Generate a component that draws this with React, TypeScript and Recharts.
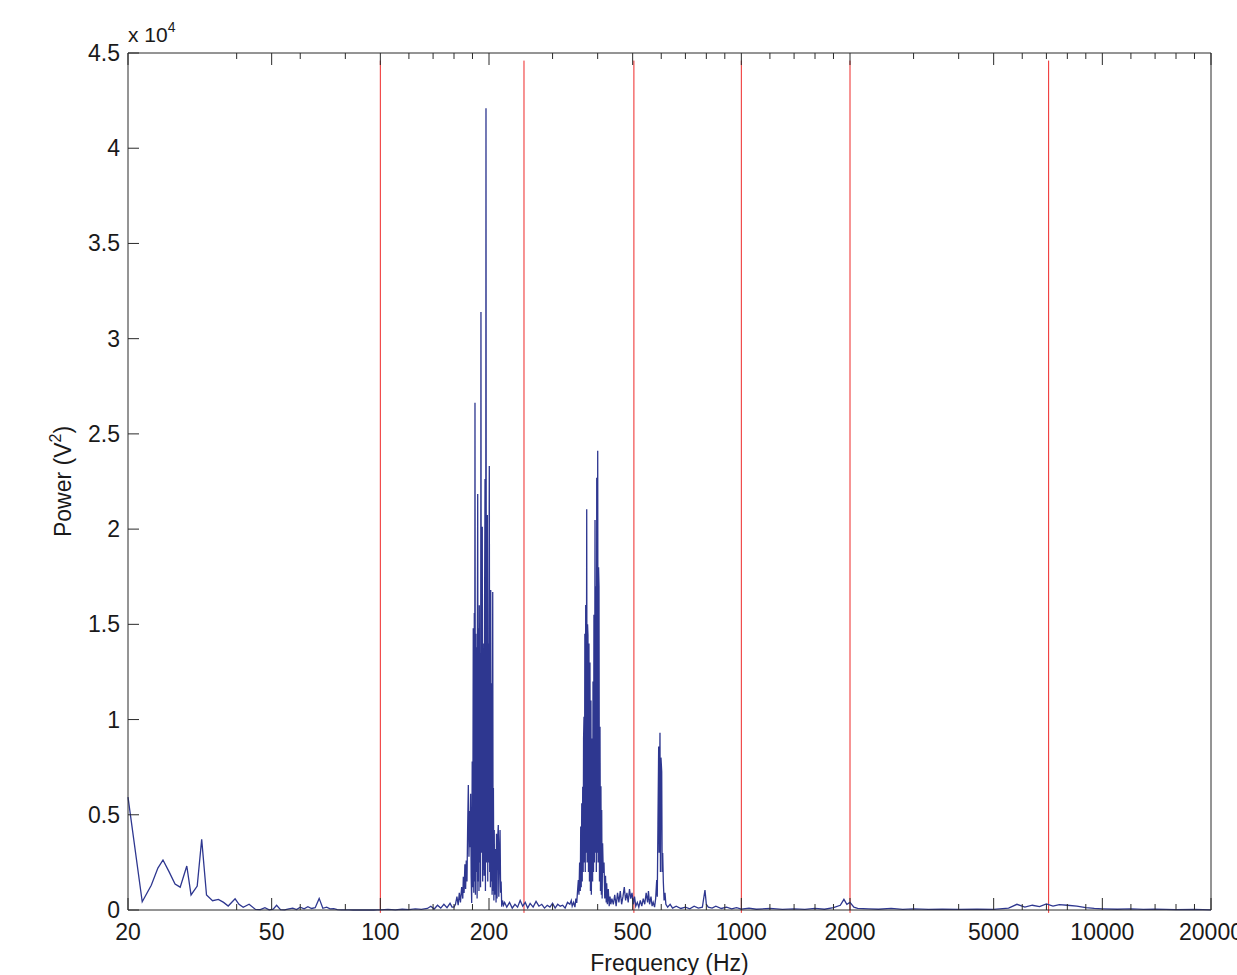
import React from 'react';
import { LineChart, Line, XAxis, YAxis, ReferenceLine } from 'recharts';

const FONT = '"Liberation Sans", Arial, Helvetica, sans-serif';
const LINE_COLOR = '#2E3790';
const RED = '#EE2828';
const AXIS = '#2a2a2a';

// ---- spectrum data (frequency Hz, power V^2) ----
const lowFreq = [20, 21.9, 23.2, 24.2, 25.0, 26.0, 27.0, 27.9, 29.1, 29.9, 31.1, 32.0, 33.0, 34.3, 35.6, 36.8, 37.9, 39.6, 40.6, 41.7, 43.3, 45.1, 46.5, 47.9, 49.2, 50.5, 51.6, 52.9, 54.3, 55.8, 57.2, 58.6, 60.0, 61.5, 63.0, 64.5, 66.0, 67.7, 69.3, 71.0, 72.6, 74.3, 76.0, 78, 80, 82, 84, 86, 88, 90, 92, 94, 96, 98];
const lowPow = [5930, 435, 1300, 2200, 2625, 2000, 1365, 1200, 2310, 790, 1260, 3710, 790, 490, 560, 400, 210, 590, 300, 140, 300, 30, 20, 120, 10, 40, 250, 20, 10, 60, 100, 20, 150, 60, 170, 80, 120, 610, 90, 150, 60, 70, 20, 10, 5, 10, 0, 5, 0, 10, 0, 5, 0, 10];

const midFreq = [100, 105, 110, 115, 120, 125, 130, 135, 138, 141, 144, 147, 150, 153, 156, 158];
const midPow = [10, 30, 10, 40, 20, 60, 30, 80, 200, 50, 250, 100, 300, 120, 350, 150];

const band1Freq = [
  160, 161.5, 163, 164.3, 165.5, 166.7, 168, 169.2, 169.8, 170.6,
  171.5, 172.3, 173, 173.8, 174.5, 175.3, 176, 176.6, 177.2, 177.9,
  178.5, 179.1, 179.7, 180.3, 180.9, 181.5, 182.1, 182.5, 182.9, 183.4,
  183.9, 184.4, 184.9, 185.4, 185.8, 186.1, 186.6, 187.1, 187.6, 188.0,
  188.5, 189.0, 189.5, 190.0, 190.5, 191.0, 191.6, 192.1, 192.6, 192.9,
  193.4, 193.9, 194.4, 195.0, 195.5, 195.9, 196.2, 196.7, 197.2, 197.9,
  198.4, 198.9, 199.4, 199.9, 200.4, 200.9, 201.4, 201.8, 202.2, 202.7,
  203.1, 203.5, 204.0, 204.4, 204.8, 205.3, 205.7, 206.3, 206.8, 207.3,
  207.8, 208.5, 209.2, 209.8, 210.5, 211.2, 212.2, 212.9, 213.7, 214.6,
  215.4, 216.1, 216.9, 218, 219.5, 221,
];
const band1Pow = [
  150, 300, 700, 250, 900, 400, 1200, 600, 1750, 900,
  2400, 1100, 2600, 1500, 4200, 6560, 2800, 5200, 3300, 6100,
  1800, 370, 7800, 1200, 14800, 900, 15600, 1500, 26630, 800,
  14500, 2000, 13800, 600, 16000, 21840, 1500, 14800, 1000, 16000,
  2500, 13500, 1200, 31400, 3000, 14000, 20120, 1500, 9500, 2100,
  14000, 1800, 15500, 22630, 1000, 16000, 42100, 2500, 15000, 20740,
  1500, 14000, 2500, 15500, 23310, 2000, 13000, 1200, 16800, 1500,
  9000, 11900, 800, 9000, 16700, 1000, 6400, 500, 4200, 800,
  1050, 3200, 400, 4000, 600, 3600, 4460, 700, 2800, 4200,
  900, 1500, 170, 500, 250, 400,
];

const gapFreq = [224, 228, 232, 236, 240, 244, 248, 252, 256, 260, 265, 270, 275, 280, 285, 290, 295, 300, 305, 310, 315, 320, 325, 330, 335, 338];
const gapPow = [150, 400, 100, 300, 150, 500, 200, 400, 100, 350, 150, 450, 200, 300, 100, 250, 150, 350, 100, 300, 200, 250, 100, 400, 300, 500];

const band2Freq = [
  340, 343, 346, 348, 350, 351.5, 353.6, 355, 356.5, 358,
  359, 360.2, 361.4, 362.5, 363.6, 364.7, 365.6, 366.6, 367.6, 368.6,
  369.6, 370.6, 371.8, 373.0, 374.0, 375.0, 376.0, 377.2, 378.4, 379.6,
  380.8, 382.0, 383.2, 384.2, 385.1, 386.2, 387.3, 388.3, 389.5, 390.6,
  391.8, 393.3, 394.5, 395.6, 396.6, 397.6, 398.8, 400.1, 401.2, 402.3,
  403.4, 404.6, 406.0, 407.2, 408.4, 409.5, 410.4, 411.6, 412.8, 414.6,
  416.5, 418.5, 420.5, 422.5, 423.7, 425.5, 428, 430.5, 432.8, 435,
  438,
];
const band2Pow = [
  200, 400, 150, 600, 370, 900, 1575, 800, 2500, 1000,
  4380, 1200, 5600, 1500, 6470, 2000, 9000, 10150, 2500, 14500,
  2000, 16010, 3000, 21040, 2500, 15000, 14440, 2000, 14000, 1500,
  13000, 1000, 11000, 800, 3320, 9000, 1500, 12000, 2000, 15500,
  2500, 20480, 3000, 17000, 2000, 22700, 3000, 24110, 2500, 18000,
  17000, 1500, 9620, 1000, 6500, 800, 5250, 600, 3500, 1940,
  2500, 600, 1800, 400, 1400, 300, 1100, 200, 700, 300,
  600,
];

const noiseFreq = [442, 446, 450, 454, 458, 462, 466, 470, 474, 478, 482, 486, 490, 494, 498, 502, 506, 510, 515, 520, 525, 530, 535, 540, 545, 550, 553, 557, 562, 566, 570, 575, 579];
const noisePow = [300, 800, 200, 900, 400, 1000, 300, 700, 1200, 500, 900, 400, 1100, 600, 900, 300, 700, 200, 400, 150, 500, 200, 600, 300, 900, 400, 1000, 300, 700, 200, 400, 150, 600];

const band3Freq = [582.9, 585, 587.5, 590.3, 592, 595.2, 597, 599, 601.8, 603.5, 605.6, 608, 611, 614.5, 618];
const band3Pow = [1575, 700, 4500, 8580, 3000, 9310, 2000, 8000, 7260, 2000, 2990, 1500, 500, 900, 300];

const tailFreq = [625, 635, 645, 660, 680, 700, 720, 740, 760, 780, 793, 800, 810, 830, 850, 880, 910, 940, 970];
const tailPow = [150, 300, 100, 200, 80, 150, 60, 200, 100, 150, 1050, 300, 150, 100, 200, 80, 150, 60, 120];

const highFreq = [1000, 1050, 1100, 1200, 1300, 1400, 1500, 1600, 1700, 1800, 1880, 1924, 1960, 2000, 2050, 2100, 2250, 2400, 2600, 2800, 3000, 3300, 3600, 4000, 4500, 5000, 5500, 5800, 6100, 6400, 6700, 7000, 7300, 7600, 8000, 8500, 9000, 9500, 10000, 11000, 12000, 13000, 14000, 16000, 18000, 20000];
const highPow = [50, 100, 40, 80, 30, 60, 30, 80, 40, 120, 250, 560, 300, 400, 150, 80, 60, 40, 80, 30, 60, 30, 50, 30, 40, 30, 100, 300, 150, 250, 180, 320, 200, 280, 250, 200, 120, 80, 60, 40, 60, 30, 50, 20, 30, 10];

// ---- axes / markers ----
const xLabelTicks = [20, 50, 100, 200, 500, 1000, 2000, 5000, 10000, 20000];
const xMinorTicks = [40, 60, 80, 120, 140, 160, 180, 300, 400, 600, 700, 800, 900, 1200, 1400, 1600, 1800, 3000, 4000, 6000, 7000, 8000, 9000, 12000, 14000, 16000, 18000];
const yTicks = [0, 5000, 10000, 15000, 20000, 25000, 30000, 35000, 40000, 45000];
const redLines = [100, 250, 504, 1000, 2000, 7100];

const segments: [number[], number[]][] = [
  [lowFreq, lowPow],
  [midFreq, midPow],
  [band1Freq, band1Pow],
  [gapFreq, gapPow],
  [band2Freq, band2Pow],
  [noiseFreq, noisePow],
  [band3Freq, band3Pow],
  [tailFreq, tailPow],
  [highFreq, highPow],
];
const data = segments
  .flatMap(([fs, ps]) => fs.map((f, i) => ({ f, p: ps[i] })))
  .sort((a, b) => a.f - b.f);

const allXTicks = [...xLabelTicks, ...xMinorTicks].sort((a, b) => a - b);

const BottomTick = (props: any) => {
  const { x, y, payload } = props;
  const v = payload.value;
  const major = xLabelTicks.includes(v);
  return (
    <g>
      <line x1={x} x2={x} y1={y} y2={y - (major ? 12 : 6)} stroke={AXIS} strokeWidth={1} />
      {major && (
        <text x={x} y={y + 30} textAnchor="middle" fontSize={23} fontFamily={FONT} fill="#1a1a1a">
          {v}
        </text>
      )}
    </g>
  );
};

const TopTick = (props: any) => {
  const { x, y, payload } = props;
  const major = xLabelTicks.includes(payload.value);
  return <line x1={x} x2={x} y1={y} y2={y + (major ? 12 : 6)} stroke={AXIS} strokeWidth={1} />;
};

const LeftTick = (props: any) => {
  const { x, y, payload } = props;
  return (
    <g>
      <line x1={x} x2={x + 11} y1={y} y2={y} stroke={AXIS} strokeWidth={1} />
      <text x={x - 8} y={y + 8} textAnchor="end" fontSize={23} fontFamily={FONT} fill="#1a1a1a">
        {String(payload.value / 10000)}
      </text>
    </g>
  );
};

const RightTick = (props: any) => {
  const { x, y } = props;
  return <line x1={x} x2={x - 11} y1={y} y2={y} stroke={AXIS} strokeWidth={1} />;
};

const XLabel = (props: any) => {
  const vb = props.viewBox || {};
  return (
    <text x={vb.x + vb.width / 2} y={vb.y + 61} textAnchor="middle" fontSize={23} fontFamily={FONT} fill="#1a1a1a">
      Frequency (Hz)
    </text>
  );
};

const YLabel = (props: any) => {
  const vb = props.viewBox || {};
  const cx = 71;
  const cy = vb.y + vb.height / 2;
  return (
    <g>
      <text
        x={cx}
        y={cy}
        transform={`rotate(-90, ${cx}, ${cy})`}
        textAnchor="middle"
        fontSize={23}
        fontFamily={FONT}
        fill="#1a1a1a"
      >
        Power (V
        <tspan fontSize={16} dy={-10}>2</tspan>
        <tspan dy={10}>)</tspan>
      </text>
      <text x={vb.x + vb.width} y={vb.y - 11} fontSize={21} fontFamily={FONT} fill="#1a1a1a">
        x 10
        <tspan fontSize={14} dy={-10}>4</tspan>
      </text>
    </g>
  );
};

export default function App() {
  return (
    <div style={{ position: 'absolute', left: 0, top: 0, width: 1237, height: 975, background: '#fff' }}>
      <LineChart width={1237} height={975} data={data} margin={{ top: 52, right: 25, bottom: 0, left: 0 }}>
        <XAxis
          xAxisId="bottom"
          dataKey="f"
          type="number"
          scale="log"
          domain={[20, 20000]}
          ticks={allXTicks}
          interval={0}
          height={65}
          tickSize={0}
          tickMargin={0}
          tickLine={false}
          axisLine={{ stroke: AXIS, strokeWidth: 1 }}
          tick={<BottomTick />}
          label={<XLabel />}
        />
        <XAxis
          xAxisId="top"
          orientation="top"
          dataKey="f"
          type="number"
          scale="log"
          domain={[20, 20000]}
          ticks={allXTicks}
          interval={0}
          height={1}
          tickSize={0}
          tickMargin={0}
          tickLine={false}
          axisLine={{ stroke: AXIS, strokeWidth: 1 }}
          tick={<TopTick />}
        />
        <YAxis
          yAxisId="left"
          type="number"
          domain={[0, 45000]}
          ticks={yTicks}
          interval={0}
          width={128}
          tickSize={0}
          tickMargin={0}
          tickLine={false}
          axisLine={{ stroke: AXIS, strokeWidth: 1 }}
          tick={<LeftTick />}
          label={<YLabel />}
        />
        <YAxis
          yAxisId="right"
          orientation="right"
          type="number"
          domain={[0, 45000]}
          ticks={yTicks}
          interval={0}
          width={1}
          tickSize={0}
          tickMargin={0}
          tickLine={false}
          axisLine={{ stroke: AXIS, strokeWidth: 1 }}
          tick={<RightTick />}
        />
        {redLines.map((f) => (
          <ReferenceLine
            key={f}
            xAxisId="bottom"
            yAxisId="left"
            segment={[{ x: f, y: -150 }, { x: f, y: 44600 }]}
            stroke={RED}
            strokeWidth={1}
            ifOverflow="visible"
          />
        ))}
        <Line
          xAxisId="bottom"
          yAxisId="left"
          type="linear"
          dataKey="p"
          stroke={LINE_COLOR}
          strokeWidth={1.3}
          dot={false}
          isAnimationActive={false}
        />
      </LineChart>
    </div>
  );
}
